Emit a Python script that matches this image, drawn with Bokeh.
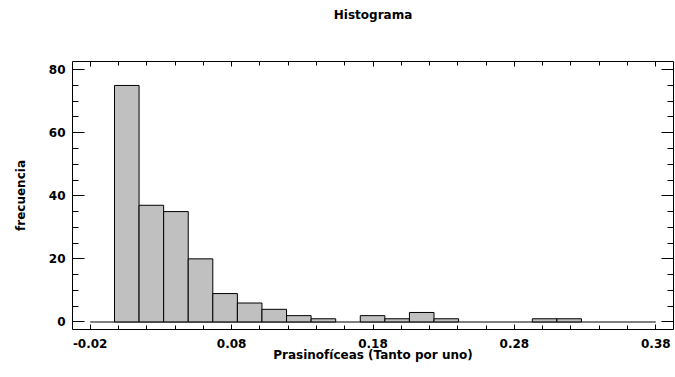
from bokeh.plotting import figure
from bokeh.models import Range1d, LinearAxis, FixedTicker, ColumnDataSource, Title
from bokeh.embed import file_html
from bokeh.resources import INLINE

# Histogram data
counts = [75, 37, 35, 20, 9, 6, 4, 2, 1, 0, 2, 1, 3, 1, 0, 0, 0, 1, 1]
bin_start = -0.0028
bin_width = 0.01738
hist_range = [-0.02, 0.38]
x_ticks = [-0.02, 0.08, 0.18, 0.28, 0.38]
x_tick_labels = ["-0.02", "0.08", "0.18", "0.28", "0.38"]
y_ticks = [0, 20, 40, 60, 80]
title_text = "Histograma"

lefts = [bin_start + i * bin_width for i in range(len(counts))]
rights = [l + bin_width for l in lefts]
src = ColumnDataSource(dict(left=[l for l, c in zip(lefts, counts) if c > 0],
                            right=[r for r, c in zip(rights, counts) if c > 0],
                            top=[c for c in counts if c > 0],
                            bottom=[0 for c in counts if c > 0]))

FONT = "DejaVu Sans"
FS = "12px"

p = figure(width=675, height=377, output_backend="svg", toolbar_location=None,
           x_range=Range1d(-0.0325, 0.3925), y_range=Range1d(-2.4, 82.6),
           min_border_left=72, min_border_right=2, min_border_top=61, min_border_bottom=48)

p.xgrid.visible = False
p.ygrid.visible = False
p.outline_line_color = "black"
p.outline_line_width = 1
p.background_fill_color = "white"
p.border_fill_color = "white"

# zero baseline across class range
p.line(x=hist_range, y=[0, 0], line_color="#7f7f7f", line_width=2)
p.quad(left="left", right="right", top="top", bottom="bottom", source=src,
       fill_color="#c0c0c0", line_color="black", line_width=1)

xt = FixedTicker(ticks=x_ticks, minor_ticks=[round(-0.02 + 0.02 * i, 4) for i in range(21)])
yt = FixedTicker(ticks=y_ticks, minor_ticks=list(range(0, 85, 5)))

def style_axis(ax, labels, xaxis):
    ax.axis_line_color = None
    ax.major_tick_out = 0
    ax.minor_tick_out = 0
    ax.major_tick_line_color = "black"
    ax.minor_tick_line_color = "black"
    if xaxis:
        ax.major_tick_in = 5
        ax.minor_tick_in = 4
    else:
        ax.major_tick_in = 12
        ax.minor_tick_in = 6
    if labels:
        ax.major_label_text_font = FONT
        ax.major_label_text_font_size = FS
        ax.major_label_text_font_style = "bold"
        ax.major_label_text_color = "black"
        ax.axis_label_text_font = FONT
        ax.axis_label_text_font_size = FS
        ax.axis_label_text_font_style = "bold"
        ax.axis_label_text_color = "black"
    else:
        ax.major_label_text_color = None
        ax.major_label_standoff = 0

p.xaxis.ticker = xt
p.xaxis.major_label_overrides = {t: s for t, s in zip(x_ticks, x_tick_labels)}
p.yaxis.ticker = yt
style_axis(p.xaxis[0], True, True)
style_axis(p.yaxis[0], True, False)
p.xaxis.axis_label = "Prasinofíceas (Tanto por uno)"
p.yaxis.axis_label = "frecuencia"
p.xaxis.major_label_standoff = 9
p.xaxis.axis_label_standoff = -3
p.yaxis.major_label_standoff = 7
p.yaxis.axis_label_standoff = 18

top_ax = LinearAxis(ticker=xt)
right_ax = LinearAxis(ticker=yt)
style_axis(top_ax, False, True)
style_axis(right_ax, False, False)
p.add_layout(top_ax, "above")
p.add_layout(right_ax, "right")

# blank spacer between the frame and the title (white on white)
spacer = Title(text=" ", text_font=FONT, text_font_size=FS, text_color="white", standoff=24)
p.add_layout(spacer, "above")
title = Title(text=title_text, text_font=FONT, text_font_size=FS,
              text_font_style="bold", align="center", text_color="black", standoff=0)
p.add_layout(title, "above")

open("out.html", "w").write(file_html(p, INLINE))
